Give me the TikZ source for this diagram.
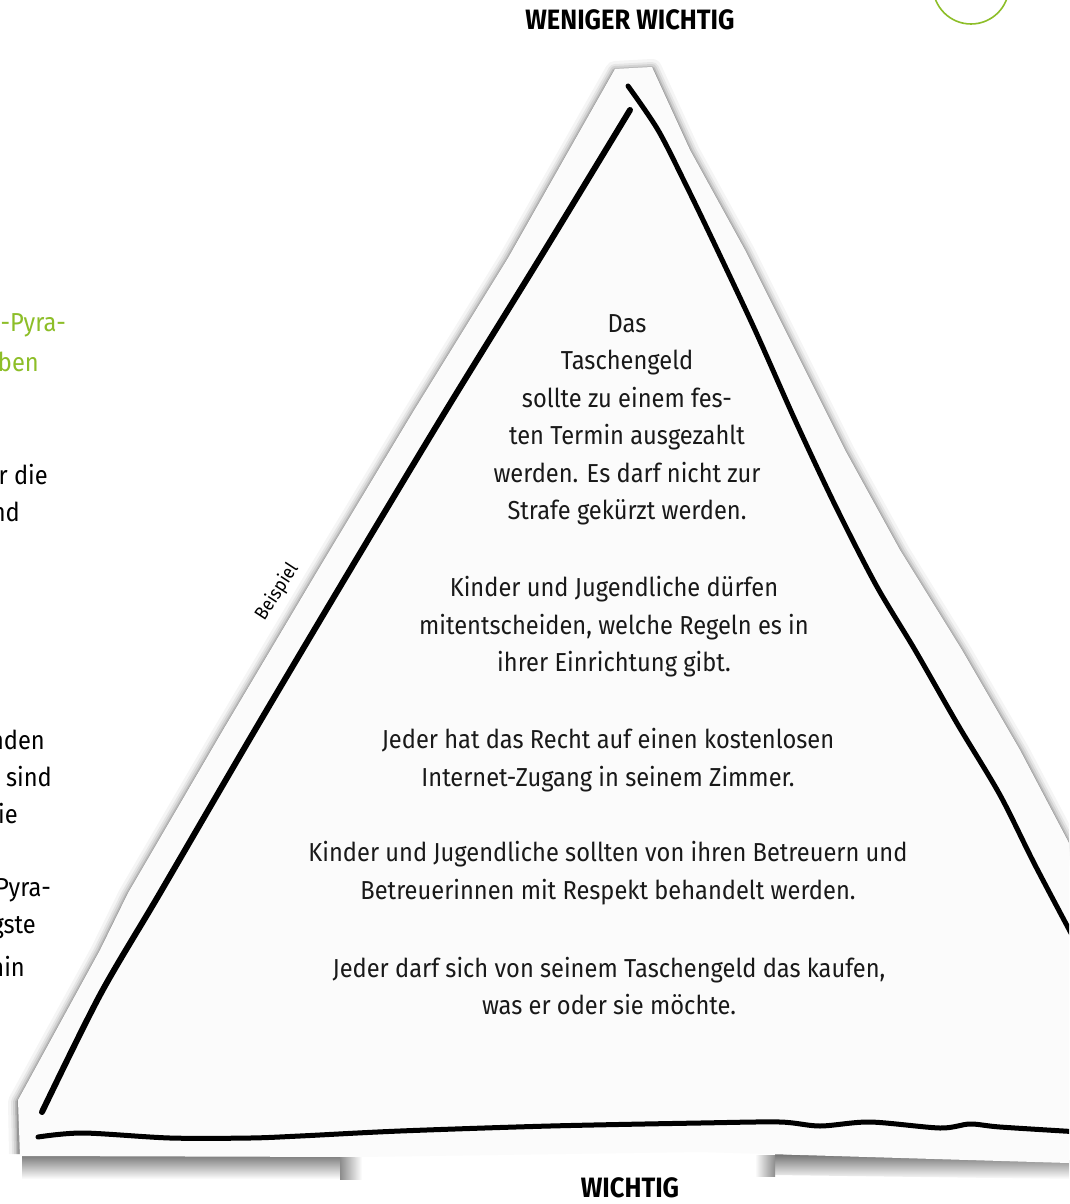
\documentclass[tikz,border=0pt]{standalone}
\usepackage{fontspec}
\setmainfont{Fira Sans}[FakeStretch=0.91]
\definecolor{pgreen}{RGB}{141,190,40}
\definecolor{paper}{gray}{0.985}
\tikzset{
  body/.style={font=\fontsize{26}{37.5}\selectfont, align=center, inner sep=0pt, text=black!90},
  frag/.style={font=\fontsize{26}{37.5}\selectfont, inner sep=0pt, anchor=east},
  head/.style={font=\fontsize{28}{30}\selectfont\bfseries, inner sep=0pt},
  pen/.style={line width=5.5pt, line cap=round, line join=round, black},
}
\begin{document}
\begin{tikzpicture}[x=1pt,y=-1pt]
\useasboundingbox (0,0) rectangle (1069,1204);
\clip (0,0) rectangle (1069,1204);
\fill[white] (0,0) rectangle (1069,1204);

% soft shadow around the left, top and right edges of the paper
\foreach \w/\o in {20/0.04,14/0.06,10/0.08,6/0.12,3/0.18}{
  \draw[line width=\w pt, black, opacity=\o, line join=round, shift={(0,2)}]
    (19,1152) -- (18,1100)
    -- (100,950) -- (128,893) -- (223,730) -- (318,570) -- (413,412) -- (508,258) -- (615,69)
    -- (652,67) -- (690,150) -- (745,250) -- (795,350) -- (845,450) -- (900,550) -- (962,650) -- (1020,750) -- (1069,843) -- (1100,900);
}
% shadow below the paper
\shade[top color=black!55, bottom color=white] (22,1154) rectangle (340,1179);
\shade[left color=black!45, right color=white] (340,1156) rectangle (362,1179);
\shade[top color=black!55, bottom color=white] (775,1154) -- (1069,1160) -- (1069,1179) -- (775,1175) -- cycle;
\shade[left color=white, right color=black!45] (755,1155) rectangle (775,1176);

% the paper
\fill[paper]
  (18,1100) -- (100,950) -- (128,893) -- (223,730) -- (318,570) -- (413,412) -- (508,258) -- (615,69)
  -- (652,67) -- (690,150) -- (745,250) -- (795,350) -- (845,450) -- (900,550) -- (962,650) -- (1020,750) -- (1069,843) -- (1100,900)
  -- (1100,1164) -- (1069,1163) -- (700,1152) -- (360,1157) -- (20,1156) -- cycle;

% hand drawn pen lines
\draw[pen, line width=6pt] plot[smooth] coordinates {(630,110) (540,258) (445,412) (350,570) (255,730) (160,893) (100,995) (42,1112)};
\draw[pen, line width=5pt] plot[smooth] coordinates {(628,86) (658,130) (686,185) (715,245) (755,330) (795,420) (835,505) (876,585) (915,650) (958,725) (1000,795) (1035,865) (1080,950)};
\draw[pen, line width=5pt] plot[smooth] coordinates {(38,1137) (83,1133) (170,1138) (250,1138) (300,1136) (400,1131) (550,1126) (700,1123) (780,1122) (820,1126) (870,1122) (940,1128) (970,1124) (1000,1127) (1080,1132)};

% green circle (page marker)
\draw[pgreen, line width=1.6pt] (971,-14) circle[radius=38];

% headings
\node[head] (top) at (630,20) {WENIGER WICHTIG};
\node[head] (bottom) at (630,1188) {WICHTIG};
\node[font=\fontsize{19}{21}\selectfont, rotate=57, inner sep=0pt] (bsp) at (277,592) {Beispiel};

% statements
\node[body] (s1) at (627,420) {Das\\Taschengeld\\sollte zu einem fes-\\ten Termin ausgezahlt\\werden. Es darf nicht zur\\Strafe gekürzt werden.};
\node[body] (s2) at (614,627) {Kinder und Jugendliche dürfen\\mitentscheiden, welche Regeln es in\\ihrer Einrichtung gibt.};
\node[body] (s3) at (608,760) {Jeder hat das Recht auf einen kostenlosen\\Internet-Zugang in seinem Zimmer.};
\node[body] (s4) at (608,873) {Kinder und Jugendliche sollten von ihren Betreuern und\\Betreuerinnen mit Respekt behandelt werden.};
\node[body] (s5) at (609,986) {Jeder darf sich von seinem Taschengeld das kaufen,\\was er oder sie möchte.};

% cut-off text of the neighbouring page column
\node[frag, text=pgreen] (f1) at (66,325) {-Pyra-};
\node[frag, text=pgreen] (f2) at (39,362) {ben};
\node[frag] (f3) at (48,475) {r die};
\node[frag] (f4) at (20,512) {nd};
\node[frag] (f5) at (45,740) {nden};
\node[frag] (f6) at (52,777) {sind};
\node[frag] (f7) at (18,814) {ie};
\node[frag] (f8) at (51,890) {Pyra-};
\node[frag] (f9) at (36,928) {gste};
\node[frag] (f10) at (25,966) {nin};
\end{tikzpicture}
\end{document}
